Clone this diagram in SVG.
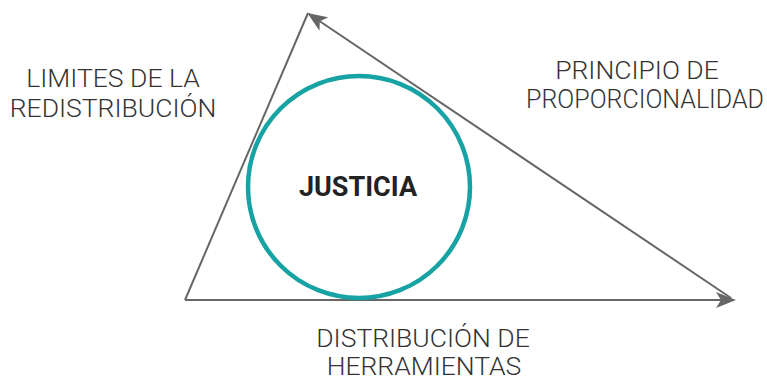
<svg xmlns="http://www.w3.org/2000/svg" width="767" height="381" viewBox="0 0 767 381">
<style>
.lbl{font-family:Roboto,"Liberation Sans",sans-serif;font-weight:300;font-size:26.5px;fill:#333;text-anchor:middle}
.edge{stroke:#666;stroke-width:2;fill:none}
</style>
<defs>
<marker id="ah2" viewBox="0 0 20 16" refX="18" refY="8" markerWidth="20" markerHeight="16" markerUnits="userSpaceOnUse" orient="auto">
<path d="M0,0 L20,8 L0,16 L5,8 Z" fill="#666"/>
</marker>
</defs>
<rect width="767" height="381" fill="#fff"/>
<g id="connectors">
<line class="edge" x1="185" y1="300" x2="308" y2="13"/>
<path class="edge" d="M731,298 L309,14" marker-end="url(#ah2)"/>
<path class="edge" d="M185,300 L734,300" marker-end="url(#ah2)"/>
</g>
<g id="justicia">
<circle cx="359" cy="187" r="111" fill="none" stroke="#17a2a3" stroke-width="4.5"/>
<text x="358" y="196" font-family="Roboto,'Liberation Sans',sans-serif" font-weight="700" font-size="27" fill="#222" text-anchor="middle">JUSTICIA</text>
</g>
<g id="limites">
<text class="lbl" x="113" y="87">LIMITES DE LA</text>
<text class="lbl" x="113" y="117">REDISTRIBUCIÓN</text>
</g>
<g id="principio">
<text class="lbl" x="637" y="79">PRINCIPIO DE</text>
<text class="lbl" x="645" y="108" style="font-size:25px">PROPORCIONALIDAD</text>
</g>
<g id="distribucion">
<text class="lbl" x="423" y="347">DISTRIBUCIÓN DE</text>
<text class="lbl" x="424" y="375">HERRAMIENTAS</text>
</g>
</svg>
